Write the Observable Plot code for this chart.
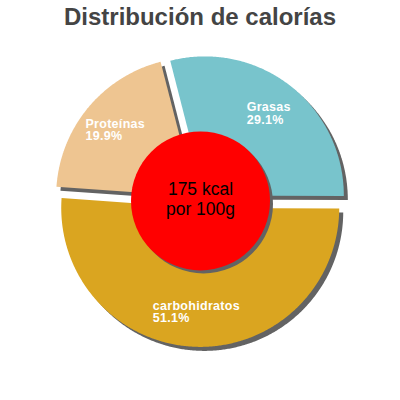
<!DOCTYPE html>
<html><head><meta charset="utf-8">
<script src="https://cdn.jsdelivr.net/npm/d3@7"></script>
<script src="https://cdn.jsdelivr.net/npm/@observablehq/plot@0.6"></script>
<style>
body{margin:0;background:#fff;font-family:"Liberation Sans",Arial,sans-serif;}
#title{height:33px;line-height:33px;font-size:24px;font-weight:bold;color:#444;text-align:center;white-space:nowrap}
</style></head><body>
<div id="title">Distribución de calorías</div>
<div id="chart"></div>
<script>
// Data
const categories = ["Grasas", "carbohidratos", "Proteínas"];
const values = [29.1, 51.1, 19.9];
const colors = ["#78C4CC", "#DAA520", "#EEC591"];
const energyValue = 175;
const energyUnit = "kcal";
const perLabel = "por 100g";

// Layout
const W = 400, H = 367, R = 139, CX = 200, CY = 167.4, EXPLODE = 7, LABEL_DIST = 111;
const START = -14.4 * Math.PI / 180;
const FONT = "'Liberation Sans', Arial, sans-serif";
const LABEL_SIZE = 12.5, LABEL_SPACING = 0.3;

const pie = d3.pie().sort(null).startAngle(START).endAngle(START + 2 * Math.PI)(values);

const ctx = document.createElement("canvas").getContext("2d");
ctx.font = `bold ${LABEL_SIZE}px 'Liberation Sans', Arial, sans-serif`;
const measure = (s) => ctx.measureText(s).width + LABEL_SPACING * s.length;

const slicePts = [];
const labels = [];
pie.forEach((p, i) => {
  const mid = (p.startAngle + p.endAngle) / 2;
  const ox = EXPLODE / R * Math.sin(mid), oy = -EXPLODE / R * Math.cos(mid);
  slicePts.push({name: categories[i], x: ox, y: oy});
  const n = Math.max(2, Math.ceil((p.endAngle - p.startAngle) / (Math.PI / 360)));
  for (let k = 0; k <= n; k++) {
    const a = p.startAngle + (p.endAngle - p.startAngle) * k / n;
    slicePts.push({name: categories[i], x: ox + Math.sin(a), y: oy - Math.cos(a)});
  }
  const line1 = categories[i], line2 = values[i].toFixed(1) + "%";
  const w = Math.max(measure(line1), measure(line2));
  labels.push({
    x: LABEL_DIST / R * Math.sin(mid) - (w / 2) / R,
    y: -LABEL_DIST / R * Math.cos(mid),
    text: line1 + "\n" + line2
  });
});

const center = [{x: 0, y: 0, line1: `${energyValue} ${energyUnit}`, line2: perLabel}];

const chart = Plot.plot({
  width: W, height: H,
  marginTop: 0, marginRight: 0, marginBottom: 0, marginLeft: 0,
  style: {fontFamily: FONT, background: "white"},
  x: {domain: [-CX / R, (W - CX) / R], range: [0, W], axis: null},
  y: {domain: [-CY / R, (H - CY) / R], range: [0, H], axis: null},
  color: {domain: categories, range: colors},
  marks: [
    Plot.line(slicePts, {x: "x", y: "y", z: "name", fill: "#636363", stroke: "none", dx: 4, dy: 4, curve: "linear"}),
    Plot.line(slicePts, {x: "x", y: "y", z: "name", fill: "name", stroke: "none", curve: "linear"}),
    Plot.dot(center, {x: "x", y: "y", r: R * 0.5, fill: "#636363", stroke: "none", dx: 3, dy: 3}),
    Plot.dot(center, {x: "x", y: "y", r: R * 0.5, fill: "#FF0000", stroke: "none"}),
    Plot.text(center, {x: "x", y: "y", text: "line1", fontSize: 17.5, fill: "black", dy: -11.1}),
    Plot.text(center, {x: "x", y: "y", text: "line2", fontSize: 17.5, fill: "black", dy: 8.1}),
    Plot.text(labels, {x: "x", y: "y", text: "text", textAnchor: "start", fill: "white", fontSize: LABEL_SIZE, fontWeight: "bold", lineHeight: 1.02, className: "slice-label"})
  ]
});
chart.querySelectorAll("g.slice-label, .slice-label").forEach(g => g.setAttribute("letter-spacing", LABEL_SPACING));
document.getElementById("chart").appendChild(chart);
</script>
</body></html>
